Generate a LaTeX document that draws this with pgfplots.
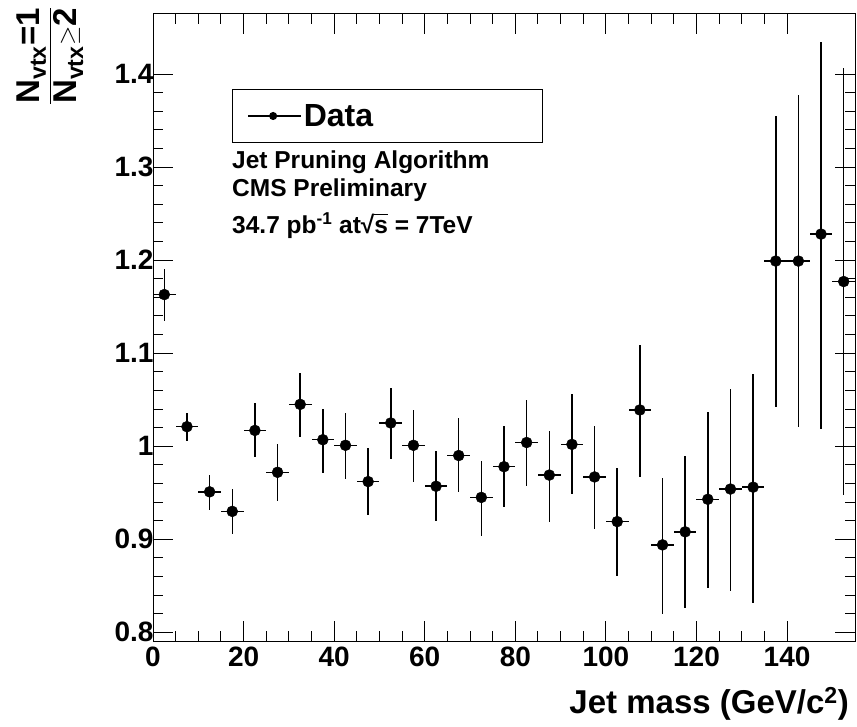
\documentclass[border=0pt]{standalone}
\usepackage{amsmath}
\usepackage{fontspec}
\setmainfont{Liberation Sans}
\usepackage{pgfplots}
\usepackage{pgfplotstable}
\pgfplotsset{compat=1.18}

\pgfplotstableread{
x y ep em
2.5 1.163 0.027 0.028
7.5 1.021 0.015 0.015
12.5 0.951 0.018 0.020
17.5 0.930 0.024 0.024
22.5 1.017 0.029 0.029
27.5 0.972 0.030 0.031
32.5 1.045 0.034 0.035
37.5 1.007 0.033 0.036
42.5 1.001 0.035 0.036
47.5 0.962 0.036 0.036
52.5 1.025 0.038 0.039
57.5 1.001 0.038 0.039
62.5 0.957 0.038 0.037
67.5 0.990 0.040 0.039
72.5 0.945 0.039 0.042
77.5 0.978 0.044 0.043
82.5 1.004 0.046 0.047
87.5 0.969 0.047 0.050
92.5 1.002 0.054 0.053
97.5 0.967 0.055 0.056
102.5 0.919 0.058 0.058
107.5 1.039 0.070 0.072
112.5 0.894 0.072 0.074
117.5 0.908 0.082 0.082
122.5 0.943 0.094 0.095
127.5 0.954 0.107 0.110
132.5 0.956 0.122 0.124
137.5 1.199 0.156 0.157
142.5 1.199 0.178 0.178
147.5 1.228 0.206 0.209
152.5 1.177 0.229 0.229
}\datatable

\begin{document}
\begin{tikzpicture}
\useasboundingbox (0,0) rectangle (857pt,726pt);
\begin{axis}[
  at={(153pt,85pt)}, anchor=south west,
  scale only axis,
  width=702pt, height=627pt,
  xmin=0, xmax=155,
  ymin=0.7907, ymax=1.4645,
  xtick={0,20,40,60,80,100,120,140},
  minor x tick num=3,
  ytick={0.8,0.9,1,1.1,1.2,1.3,1.4},
  yticklabels={0.8,0.9,1,1.1,1.2,1.3,1.4},
  minor y tick num=4,
  tick align=inside,
  tick pos=both,
  major tick length=20pt,
  minor tick length=10pt,
  axis line style={line width=1pt},
  every tick/.style={black,line width=1pt},
  /pgf/number format/assume math mode=true,
  tick label style={font=\fontsize{28}{30}\selectfont\bfseries},
  xticklabel style={yshift=-2pt},
  yticklabel style={xshift=4pt},
  legend style={
    at={(axis description cs:0.1125,0.880)}, anchor=north west,
    draw=black, line width=1pt,
    inner xsep=15pt, inner ysep=12.5pt,
    font=\fontsize{32}{36}\selectfont\bfseries,
    /tikz/every even column/.append style={column sep=10pt},
  },
  legend image code/.code={
    \draw[black,line width=1.3pt] (0pt,0pt) -- (53pt,0pt);
    \fill[black] (25pt,0pt) circle (3.5pt);
  },
]
\addplot+[
  black, mark=*, mark size=5.5pt, only marks,
  mark options={fill=black},
  error bars/.cd,
    x dir=both, x fixed=2.5,
    y dir=both, y explicit,
    error mark=none,
    error bar style={line width=1.5pt, black},
] table[x=x, y=y, y error plus=ep, y error minus=em] {\datatable};
\addlegendentry{Data\hspace*{152pt}}
\end{axis}
\begin{scope}[every node/.style={inner sep=0pt, anchor=base west, font=\fontsize{24.5}{28}\selectfont\bfseries}]
\node at (232pt,557pt) {Jet Pruning Algorithm};
\node at (232pt,529pt) {CMS Preliminary};
\node at (232pt,492pt) {34.7 pb\textsuperscript{-1} at√\rlap{\rule[0.76em]{0.56em}{1.3pt}}s = 7TeV};
\end{scope}
\node[inner sep=0pt, anchor=base east, font=\fontsize{33}{38}\selectfont\bfseries] at (849pt,13pt) {Jet mass (GeV/c\textsuperscript{2})};
\node[rotate=90, inner sep=0pt, font=\fontsize{33}{36}\selectfont\bfseries] at (50pt,670pt) {$\dfrac{\text{N}_{\text{vtx}}\text{=1}}{\text{N}_{\text{vtx}}\text{$\geq$2}}$};
\end{tikzpicture}
\end{document}
